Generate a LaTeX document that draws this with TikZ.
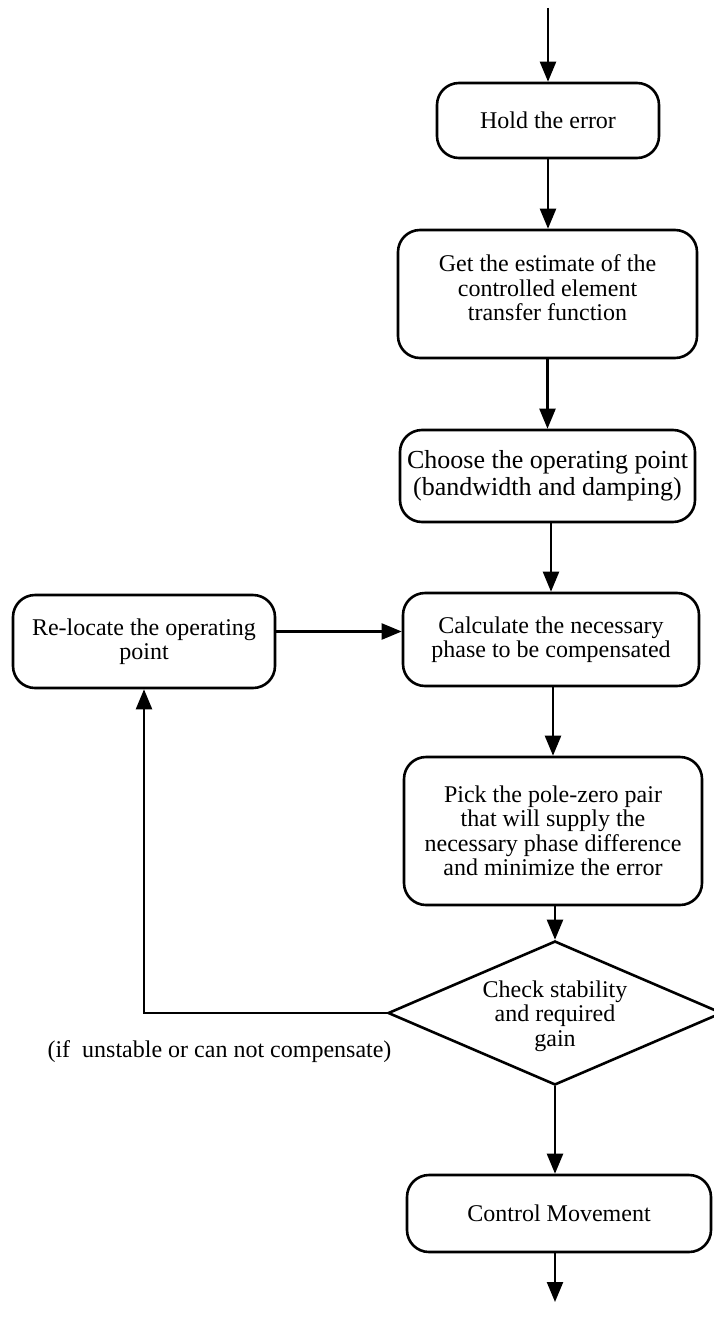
\documentclass[tikz,border=0pt]{standalone}
\usepackage{fontspec}
\setmainfont{Liberation Serif}
\usetikzlibrary{arrows.meta,shapes.geometric}
\begin{document}
\begin{tikzpicture}[x=1pt,y=-1pt,
  proc/.style={draw, line width=2.6pt, rounded corners=22pt, align=center,
    inner sep=0pt, font=\fontsize{24}{24.5}\selectfont},
  txt/.style={align=center, inner sep=0pt, font=\fontsize{24}{24.5}\selectfont},
  decision/.style={draw, diamond, line width=2.6pt, inner sep=0pt},
  arr/.style={line width=2.3pt, -{Triangle[length=20pt,width=16pt]}},
]
\useasboundingbox (0,0) rectangle (713,1322);

\node[proc, minimum width=222pt, minimum height=75pt] (hold) at (548,120.5) {Hold the error};
\node[proc, minimum width=299pt, minimum height=128pt] (est) at (547.5,294) {Get the estimate of the\\controlled element\\transfer function\\[-12pt]};
\node[proc, minimum width=295pt, minimum height=92pt, font=\fontsize{26}{26.5}\selectfont] (choose) at (547.5,476) {Choose the operating point\\(bandwidth and damping)};
\node[proc, minimum width=296pt, minimum height=93pt] (calc) at (551,639.5) {Calculate the necessary\\phase to be compensated};
\node[proc, minimum width=262pt, minimum height=93pt] (reloc) at (144,641.5) {Re-locate the operating\\point};
\node[proc, minimum width=298pt, minimum height=148pt] (pick) at (553,831) {Pick the pole-zero pair\\that will supply the\\necessary phase difference\\and minimize the error};
\node[decision, minimum width=334pt, minimum height=144pt] (dia) at (555,1013) {};
\node[txt] (diatext) at (555,1016) {Check stability\\and required\\gain};
\node[proc, minimum width=304pt, minimum height=77pt] (ctrl) at (559,1213.5) {Control Movement};
\node[txt] (note) at (219.5,1052) {(if\ \ unstable or can not compensate)};

\coordinate (in) at (548,8);
\coordinate (out) at (555,1302);

\draw[arr] (in) -- (hold.north);
\draw[arr] (hold.south) -- (hold.south |- est.north);
\draw[arr] (est.south) -- (est.south |- choose.north);
\draw[arr] (calc.north |- choose.south) -- (calc.north);
\draw[arr] ([yshift=10pt]reloc.east) -- ([yshift=10pt]reloc.east -| calc.west);
\draw[arr] (pick.north |- calc.south) -- (pick.north);
\draw[arr] (dia.north |- pick.south) -- (dia.north);
\draw[arr] (dia.west) -| (reloc.south);
\draw[arr] (dia.south) -- (dia.south |- ctrl.north);
\draw[arr] (out |- ctrl.south) -- (out);
\end{tikzpicture}
\end{document}
